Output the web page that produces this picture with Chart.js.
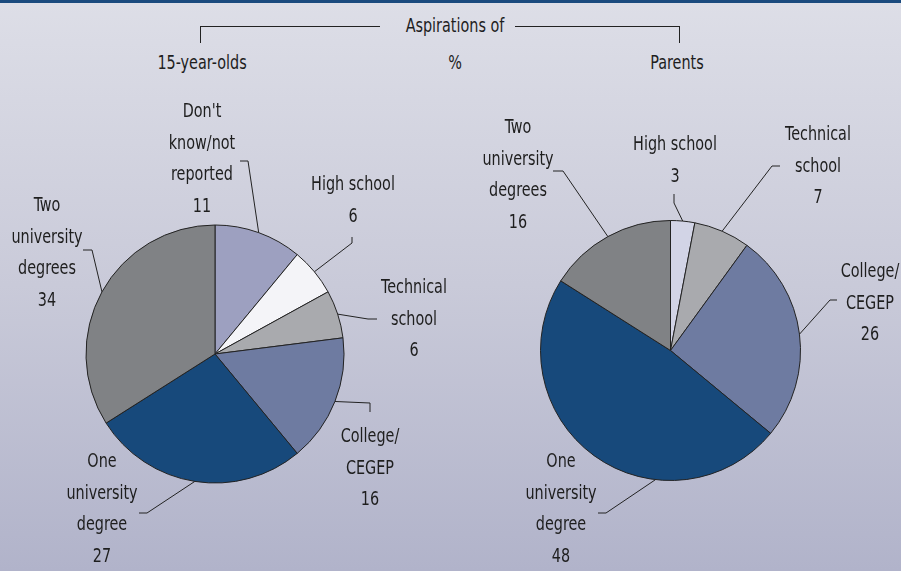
<!DOCTYPE html>
<html>
<head>
<meta charset="utf-8">
<script src="https://cdn.jsdelivr.net/npm/chart.js@4"></script>
<style>
  html, body { margin: 0; padding: 0; }
  body { width: 901px; height: 571px; overflow: hidden; }
  #wrap {
    position: relative; width: 901px; height: 571px;
    background: linear-gradient(to bottom, #dddee7 0%, #c9cad9 50%, #b1b3ca 100%);
    font-family: "DejaVu Sans Condensed", "Liberation Sans Narrow", sans-serif;
    color: #1e1e1e;
  }
  #topbar { position: absolute; left: 0; top: 0; width: 901px; height: 3px; background: #1a4a7e; }
  .txt { position: absolute; font-size: 20px; line-height: 20px; transform: translate(-50%, -50%) scaleX(0.8); white-space: nowrap; }
  .ln { position: absolute; background: #222; }
  canvas { position: absolute; top: 0; left: 0; }
</style>
</head>
<body>
<div id="wrap">
  <div id="topbar"></div>
  <div class="ln" style="left:200px;top:26px;width:180px;height:1px"></div>
  <div class="ln" style="left:515px;top:26px;width:165px;height:1px"></div>
  <div class="ln" style="left:200px;top:26px;width:1px;height:17px"></div>
  <div class="ln" style="left:679px;top:26px;width:1px;height:17px"></div>
  <div class="txt" style="left:455px;top:25px">Aspirations of</div>
  <div class="txt" style="left:202px;top:62px">15-year-olds</div>
  <div class="txt" style="left:455px;top:62px">%</div>
  <div class="txt" style="left:677px;top:62px">Parents</div>
  <canvas id="youth" width="901" height="571"></canvas>
  <canvas id="parents" width="901" height="571"></canvas>
</div>
<script>
// 15-year-olds, clockwise from 12 o'clock
const youthCats = ["Don't\nknow/not\nreported", "High school", "Technical\nschool", "College/\nCEGEP", "One\nuniversity\ndegree", "Two\nuniversity\ndegrees"];
const youthVals = [11, 6, 6, 16, 27, 34];
const youthColors = ["#9da0c0", "#f4f4f8", "#a9aaae", "#6e7ba1", "#17497b", "#808285"];

// parents
const parentCats = ["High school", "Technical\nschool", "College/\nCEGEP", "One\nuniversity\ndegree", "Two\nuniversity\ndegrees"];
const parentVals = [3, 7, 26, 48, 16];
const parentColors = ["#d2d4e6", "#a9aaae", "#6e7ba1", "#17497b", "#808285"];

// label placement: text centre x, first line y, leader points, where on the slice edge the leader ends
const youthLabels = [
  { x: 202, y: 112, lead: [[240, 161], [248, 161]], at: 0.5 },
  { x: 353, y: 185, lead: [[352, 237], [352, 243]], at: 0.5 },
  { x: 414, y: 288, lead: [[377, 319], [368, 319]], at: 0.5 },
  { x: 370, y: 437, lead: [[370, 412], [370, 403]], at: 0.5 },
  { x: 102, y: 462, lead: [[139, 513], [147, 513]], at: 0.5 },
  { x: 47,  y: 206, lead: [[83, 250], [92, 250]], at: 0.5 }
];
const parentLabels = [
  { x: 675, y: 145, lead: [[674, 194], [674, 203]], at: 0.5 },
  { x: 818, y: 135, lead: [[780, 166], [772, 166]], at: 0.5 },
  { x: 870, y: 272, lead: [[837, 300], [830, 300]], at: 0.5 },
  { x: 561, y: 462, lead: [[598, 513], [606, 513]], at: 0.33 },
  { x: 518, y: 128, lead: [[553, 171], [563, 171]], at: 0.5 }
];

function callouts(labels) {
  return {
    id: "callouts",
    afterDatasetsDraw(chart) {
      const ctx = chart.ctx;
      const meta = chart.getDatasetMeta(0);
      const vals = chart.data.datasets[0].data;
      ctx.save();
      ctx.font = "20px 'DejaVu Sans Condensed', 'Liberation Sans Narrow', sans-serif";
      ctx.fillStyle = "#1e1e1e";
      ctx.strokeStyle = "#222";
      ctx.lineWidth = 1;
      ctx.textAlign = "center";
      ctx.textBaseline = "middle";
      meta.data.forEach((arc, i) => {
        const p = arc.getProps(["x", "y", "startAngle", "endAngle", "outerRadius"], true);
        const lab = labels[i];
        const a = p.startAngle + (p.endAngle - p.startAngle) * lab.at;
        const ex = p.x + Math.cos(a) * p.outerRadius;
        const ey = p.y + Math.sin(a) * p.outerRadius;
        ctx.beginPath();
        ctx.moveTo(lab.lead[0][0], lab.lead[0][1]);
        ctx.lineTo(lab.lead[1][0], lab.lead[1][1]);
        ctx.lineTo(ex, ey);
        ctx.stroke();
        const lines = chart.data.labels[i].split("\n").concat(String(vals[i]));
        lines.forEach((t, k) => {
          ctx.save();
          ctx.translate(lab.x, lab.y + k * 31.5);
          ctx.scale(0.8, 1);
          ctx.fillText(t, 0, 0);
          ctx.restore();
        });
      });
      ctx.restore();
    }
  };
}

function makePie(id, cats, vals, colors, labels, radius, pad) {
  return new Chart(document.getElementById(id), {
    type: "pie",
    data: {
      labels: cats,
      datasets: [{
        data: vals,
        backgroundColor: colors,
        borderColor: "#222",
        borderWidth: 1,
        radius: radius,
        hoverOffset: 0,
        offset: 0
      }]
    },
    options: {
      responsive: false,
      animation: false,
      events: [],
      layout: { padding: pad },
      plugins: {
        legend: { display: false },
        tooltip: { enabled: false }
      }
    },
    plugins: [callouts(labels)]
  });
}

makePie("youth", youthCats, youthVals, youthColors, youthLabels, 129, { left: 0, right: 471, top: 137, bottom: 0 });
makePie("parents", parentCats, parentVals, parentColors, parentLabels, 130, { left: 440, right: 0, top: 130, bottom: 0 });
</script>
</body>
</html>
